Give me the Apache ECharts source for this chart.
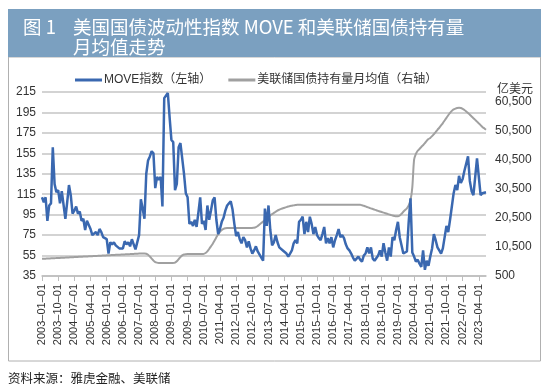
<!DOCTYPE html>
<html>
<head>
<meta charset="utf-8">
<script src="https://cdn.jsdelivr.net/npm/echarts@6/dist/echarts.min.js"></script>
<style>
html,body{margin:0;padding:0;background:#fff;}
#c{width:550px;height:391px;}
</style>
</head>
<body>
<div id="c"></div>
<script>
// ---- data ----
var startYear = 2003, startMonth = 1, monthCount = 248;
var categories = [];
(function(){
  var y = startYear, m = startMonth;
  for (var k = 0; k < monthCount; k++) {
    categories.push(y + '–' + (m < 10 ? '0' + m : m) + '–01');
    m++; if (m > 12) { m = 1; y++; }
  }
})();

// MOVE index (left axis), monthly 2003-01 .. 2023-08
var moveIndex = [
  112,107,112,89,104,106,161,125,117,119,106,118,
  117,91,107,124,114,96,99,103,96,98,89,91,
  80,89,88,81,75,76,78,75,81,78,73,74,
  71,57,68,66,68,65,66,62,63,62,69,66,
  68,64,71,66,61,60,75,110,101,91,135,148,
  152,157,155,121,132,129,132,103,209,208,214,190,
  168,166,119,125,161,165,150,135,116,112,86,88,
  84,90,83,97,112,86,89,80,104,90,99,109,
  112,90,76,81,88,92,99,104,106,108,100,86,
  74,78,71,67,73,70,63,69,62,57,60,64,
  59,60,53,50,101,84,104,80,65,68,75,68,
  63,62,60,60,57,54,57,60,67,70,67,88,
  90,93,76,88,78,93,86,76,83,75,72,70,
  76,83,67,72,67,73,63,70,75,81,73,75,
  72,66,62,60,57,53,50,52,54,51,49,55,
  57,63,57,63,52,50,49,55,60,54,67,58,
  50,63,54,73,70,80,88,73,65,57,58,59,
  88,111,58,54,49,51,47,44,60,41,50,45,
  54,62,76,70,63,60,57,62,63,84,78,90,
  103,116,124,119,133,126,130,138,145,152,128,118,
  114,113,150,132,114,116,115,117
];

// Fed Treasury holdings monthly average (right axis, 亿美元)
var fedHoldings = [
  6400,6430,6470,6500,6530,6570,6600,6630,6670,6700,6730,6770,
  6800,6830,6870,6900,6930,6970,7000,7030,7070,7100,7130,7170,
  7200,7230,7270,7300,7330,7370,7400,7430,7470,7500,7530,7570,
  7600,7630,7670,7700,7730,7770,7800,7830,7870,7900,7930,7970,
  8000,8030,8070,8100,8130,8170,8200,8200,8200,8200,8150,7800,
  7200,6500,5800,5300,5100,5000,4950,4950,4950,4950,4950,4950,
  4950,5000,5100,5600,6300,7000,7600,7900,8000,8050,8050,8050,
  8050,8050,8050,8050,8050,8050,8100,8400,9000,9800,10700,11600,
  12700,13800,14900,15700,16300,16700,16900,17000,17000,17000,17000,17000,
  17000,17000,17000,17000,17000,17000,17000,17000,17000,17050,17100,17300,
  17700,18200,18700,19200,19700,20200,20800,21300,21800,22200,22600,23000,
  23300,23600,23800,24000,24200,24400,24600,24700,24800,24900,25000,25000,
  25000,25000,25000,25000,25000,25000,25000,25000,25000,25000,25000,25000,
  25000,25000,25000,25000,25000,25000,25000,25000,25000,25000,25000,25000,
  25000,25000,25000,25000,25000,25000,25000,25000,25000,25000,24850,24650,
  24450,24200,24000,23750,23550,23350,23100,22900,22700,22500,22300,22100,
  21900,21700,21500,21300,21150,21050,21050,21300,21900,22600,23200,23800,
  24800,26500,31000,40500,42500,43600,44200,44900,45500,46200,47000,47600,
  48000,48600,49300,50000,50800,51500,52300,53100,54000,54900,55800,56600,
  57300,57800,58100,58300,58400,58300,58000,57600,57100,56600,56000,55400,
  54800,54200,53600,53000,52400,51800,51300,50800
];

var leftMin = 35, leftMax = 215, leftStep = 20;
var rightMin = 500, rightMax = 63800, rightStep = 10000;

var seriesNames = ['MOVE指数（左轴）', '美联储国债持有量月均值（右轴）'];
var titleLabel = '图 1';
var titleLine1 = '美国国债波动性指数 MOVE 和美联储国债持有量';
var titleLine2 = '月均值走势';
var unitLabel = '亿美元';
var sourceText = '资料来源：雅虎金融、美联储';

var latin = '"Liberation Sans", Arial, "Noto Sans CJK SC", sans-serif';
var cjk = '"Noto Sans CJK SC", "Liberation Sans", sans-serif';

var chart = echarts.init(document.getElementById('c'), null, {renderer: 'canvas'});
chart.setOption({
  animation: false,
  backgroundColor: '#fff',
  textStyle: {fontFamily: latin},
  graphic: [
    {type: 'rect', z: 0, shape: {x: 8.5, y: 57, width: 532, height: 304},
     style: {fill: 'none', stroke: '#b0b0b0', lineWidth: 1}},
    {type: 'rect', z: 1, shape: {x: 8, y: 9, width: 533, height: 48},
     style: {fill: '#7ba0c0'}},
    {type: 'text', z: 2, x: 23, y: 27,
     style: {text: titleLabel, fill: '#fff', font: '18.5px ' + cjk, textVerticalAlign: 'middle'}},
    {type: 'text', z: 2, x: 73, y: 27,
     style: {text: titleLine1, fill: '#fff', font: '18.5px ' + cjk, textVerticalAlign: 'middle'}},
    {type: 'text', z: 2, x: 73, y: 47,
     style: {text: titleLine2, fill: '#fff', font: '18.5px ' + cjk, textVerticalAlign: 'middle'}},
    {type: 'text', z: 2, x: 497, y: 88,
     style: {text: unitLabel, fill: '#333', font: '12px ' + cjk, textVerticalAlign: 'middle'}},
    {type: 'text', z: 2, x: 8, y: 378,
     style: {text: sourceText, fill: '#222', font: '12.5px ' + cjk, textVerticalAlign: 'middle'}}
  ],
  legend: {
    left: 70, top: 69,
    itemWidth: 27, itemHeight: 3, itemGap: 17,
    icon: 'rect',
    textStyle: {fontSize: 12, color: '#333', fontFamily: latin, padding: [0, 0, 0, -3]},
    data: seriesNames
  },
  grid: {left: 42, right: 64, top: 92, bottom: 115, containLabel: false, outerBoundsMode: 'none'},
  xAxis: {
    type: 'category',
    data: categories,
    boundaryGap: false,
    axisLine: {lineStyle: {color: '#bdbdbd', width: 1.5}},
    axisTick: {show: true, interval: 8, length: 5, lineStyle: {color: '#bdbdbd', width: 1}},
    axisLabel: {interval: 8, rotate: 90, fontSize: 11, color: '#333', margin: 8, fontFamily: latin},
    splitLine: {show: false}
  },
  yAxis: [
    {
      type: 'value', min: leftMin, max: leftMax, interval: leftStep, position: 'left',
      axisLine: {show: false}, axisTick: {show: false},
      axisLabel: {fontSize: 12, color: '#333', margin: 6},
      splitLine: {lineStyle: {color: '#d3d3d3', width: 2}}
    },
    {
      type: 'value', min: rightMin, max: rightMax, interval: rightStep, position: 'right',
      axisLine: {show: false}, axisTick: {show: false},
      axisLabel: {fontSize: 12, color: '#333', margin: 9, showMaxLabel: false},
      splitLine: {show: false}
    }
  ],
  series: [
    {
      name: seriesNames[0], type: 'line', yAxisIndex: 0, data: moveIndex,
      showSymbol: false, symbol: 'none', z: 3,
      lineStyle: {color: '#3a68b0', width: 2.5},
      itemStyle: {color: '#3a68b0'}
    },
    {
      name: seriesNames[1], type: 'line', yAxisIndex: 1, data: fedHoldings,
      showSymbol: false, symbol: 'none', smooth: 0.3, z: 2,
      lineStyle: {color: '#a0a0a0', width: 2},
      itemStyle: {color: '#a0a0a0'}
    }
  ]
});
</script>
</body>
</html>
